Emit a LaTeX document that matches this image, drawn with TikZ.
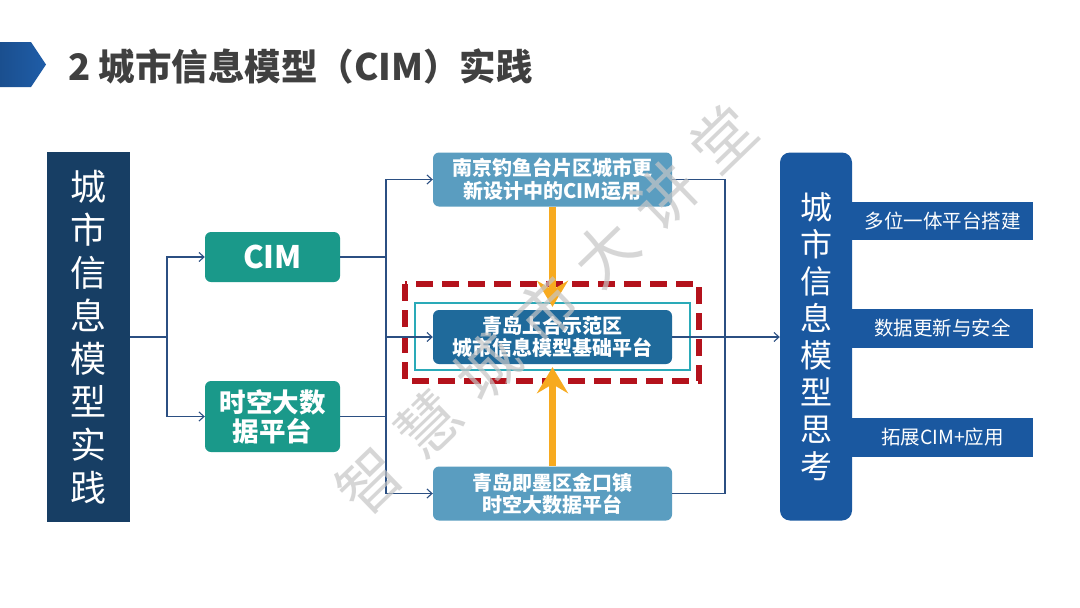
\documentclass[tikz,border=0pt]{standalone}
\usepackage{fontspec}
\setmainfont{Noto Sans CJK SC}
\usetikzlibrary{arrows.meta}
\definecolor{navy}{HTML}{173E64}
\definecolor{teal1}{HTML}{1A998A}
\definecolor{steel}{HTML}{5A9DC0}
\definecolor{deepb}{HTML}{1F6A9B}
\definecolor{rblue}{HTML}{1A58A0}
\definecolor{lineb}{HTML}{2B4F82}
\definecolor{dred}{HTML}{B4121C}
\definecolor{cyan1}{HTML}{2AAAB8}
\definecolor{orng}{HTML}{F7AA1F}
\definecolor{ttl}{HTML}{404040}
\definecolor{arrowbl}{HTML}{1F5DA8}
\tikzset{
  box/.style={rectangle, inner sep=0pt, text=white, align=center},
  rbox/.style={box, rounded corners=6pt},
  conn/.style={draw=lineb, line width=1.1pt},
  carrow/.style={conn, -{Straight Barb[length=5pt,width=9pt]}},
  oarrow/.style={draw=orng, line width=7pt, -{Stealth[length=26pt,width=31pt,inset=9pt]}},
}
\begin{document}
\begin{tikzpicture}[x=1pt,y=-1pt]
\useasboundingbox (0,0) rectangle (1080,608);
\fill[white] (0,0) rectangle (1080,608);
% title
\shade[left color=arrowbl!85!black, right color=arrowbl] (0,42) -- (31,42) -- (46,64.5) -- (31,87) -- (0,87) -- cycle;
\node[anchor=west, text=ttl, font=\bfseries\fontsize{36.5}{42}\selectfont, inner sep=0pt] (title) at (68,66) {2 城市信息模型（CIM）实践};
% left
\node[box, fill=navy, minimum width=83pt, minimum height=370pt, font=\fontsize{36}{43}\selectfont] (L) at (88.5,337) {城\\市\\信\\息\\模\\型\\实\\践};
\node[rbox, fill=teal1, minimum width=135pt, minimum height=50pt, font=\bfseries\fontsize{31}{32}\selectfont] (cim) at (272.5,257) {CIM};
\node[rbox, fill=teal1, minimum width=135pt, minimum height=71pt, font=\bfseries\fontsize{26.5}{29}\selectfont] (sk) at (272.5,416.5) {时空大数\\据平台};
% middle
\draw[dred, line width=5.5pt, dash pattern=on 17pt off 9pt] (405,284) rectangle (699,381);
\draw[cyan1, line width=1.8pt] (415,303) rectangle (690,370);
\node[rbox, fill=steel, minimum width=239pt, minimum height=54pt, font=\bfseries\fontsize{20}{23}\selectfont] (nj) at (552.5,179.5) {南京钓鱼台片区城市更\\新设计中的CIM运用};
\node[rbox, fill=deepb, minimum width=239pt, minimum height=54pt, font=\bfseries\fontsize{20}{22}\selectfont] (sh) at (552.5,337) {青岛上合示范区\\城市信息模型基础平台};
\node[rbox, fill=steel, minimum width=239pt, minimum height=54pt, font=\bfseries\fontsize{20}{22}\selectfont] (jm) at (552.5,493.5) {青岛即墨区金口镇\\时空大数据平台};
% right
\node[box, fill=rblue, rounded corners=10pt, minimum width=72pt, minimum height=368pt, font=\fontsize{32}{37}\selectfont] (R) at (816,336.5) {城\\市\\信\\息\\模\\型\\思\\考};
\node[box, fill=rblue, minimum width=181pt, minimum height=38pt, font=\fontsize{19.5}{22}\selectfont] (r1) at (942.5,221) {多位一体平台搭建};
\node[box, fill=rblue, minimum width=181pt, minimum height=39pt, font=\fontsize{19.5}{22}\selectfont] (r2) at (942.5,328.5) {数据更新与安全};
\node[box, fill=rblue, minimum width=181pt, minimum height=39pt, font=\fontsize{19.5}{22}\selectfont] (r3) at (942.5,437) {拓展CIM+应用};
% connectors left
\coordinate (j1) at (167,337);
\draw[conn] (L.east |- j1) -- (j1);
\draw[carrow] (j1) |- (cim.west);
\draw[carrow] (j1) |- (sk.west);
% connectors middle
\coordinate (j2) at (386,337);
\draw[conn] (cim.east) -- (cim.east -| j2);
\draw[conn] (sk.east) -- (sk.east -| j2);
\draw[carrow] (j2) |- (nj.west);
\draw[carrow] (j2) |- (jm.west);
\draw[carrow] (j2) -- (sh.west);
% connectors right
\coordinate (j3) at (725,337);
\draw[conn] (nj.east) -| (j3);
\draw[conn] (jm.east) -| (j3);
\draw[carrow] (sh.east) -- (R.west |- sh.east);
% orange arrows
\draw[oarrow, shorten >=3pt] (nj.south) -- (sh.north);
\draw[oarrow, shorten >=3pt] (jm.north) -- (sh.south);
% watermark
\node[rotate=44, text=gray!45, opacity=0.7, font=\fontsize{62}{62}\selectfont, inner sep=0pt] (wm) at (546,310) {智\hspace{20pt}慧\hspace{20pt}城\hspace{20pt}市\hspace{20pt}大\hspace{20pt}讲\hspace{20pt}堂};
\end{tikzpicture}
\end{document}
